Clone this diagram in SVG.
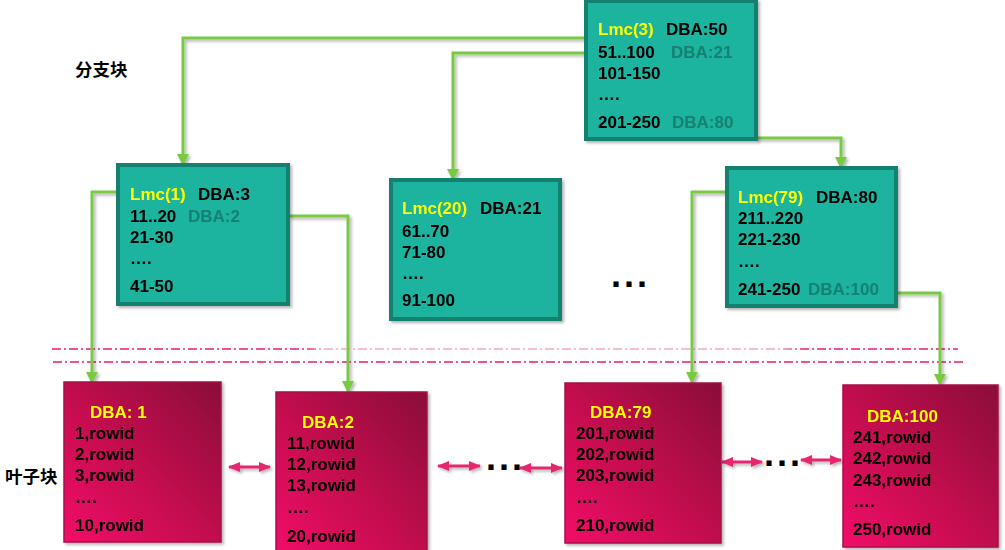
<svg xmlns="http://www.w3.org/2000/svg" width="1005" height="550" viewBox="0 0 1005 550">
<defs>
<style>
text{font-family:"Liberation Sans",Arial,sans-serif;font-weight:bold;font-size:17px;fill:#000}
.cjk{font-family:"Noto Sans CJK SC","Liberation Sans",sans-serif;font-size:17.5px}
.y{fill:#ffff00}
.g{fill:#168072}
.branch{fill:#1bb39f;stroke:#138070;stroke-width:4}
.leaf{fill:url(#leafGrad);stroke:#a8104a;stroke-width:1.5}
.conn{fill:none;stroke:#7ac943;stroke-width:3;marker-end:url(#gArrow)}
.link{stroke:#e6286f;stroke-width:3;marker-start:url(#pArrow);marker-end:url(#pArrow)}
.dash{stroke:#ee1778;stroke-width:1.3;stroke-dasharray:9 3 2 3;fill:none}
.dots{font-size:36px;letter-spacing:3px}
</style>
<linearGradient id="leafGrad" x1="1" y1="0" x2="0" y2="1">
<stop offset="0" stop-color="#8a0a38"/>
<stop offset="0.55" stop-color="#c60a50"/>
<stop offset="1" stop-color="#f20a68"/>
</linearGradient>
<linearGradient id="dashGrad" gradientUnits="userSpaceOnUse" x1="52" y1="0" x2="958" y2="0">
<stop offset="0" stop-color="#ee1778"/>
<stop offset="0.28" stop-color="#ee1778"/>
<stop offset="0.3" stop-color="#f6a8c6"/>
<stop offset="0.8" stop-color="#f6a8c6"/>
<stop offset="0.83" stop-color="#ee1778"/>
<stop offset="1" stop-color="#ee1778"/>
</linearGradient>
<filter id="sh" x="-10%" y="-10%" width="130%" height="130%">
<feDropShadow dx="2" dy="2" stdDeviation="1.5" flood-color="#000" flood-opacity="0.3"/>
</filter>
<marker id="gArrow" markerUnits="userSpaceOnUse" markerWidth="12" markerHeight="12" refX="11" refY="6" orient="auto">
<path d="M0,0 L12,6 L0,12 z" fill="#7ac943"/>
</marker>
<marker id="pArrow" markerUnits="userSpaceOnUse" markerWidth="12" markerHeight="10" refX="11" refY="5" orient="auto-start-reverse">
<path d="M0,0 L12,5 L0,10 z" fill="#e6286f"/>
</marker>
</defs>
<rect width="1005" height="550" fill="#fff"/>

<g id="labels">
<text class="cjk" x="75" y="76">分支块</text>
<text class="cjk" x="5" y="483">叶子块</text>
</g>

<g id="separators">
<line class="dash" x1="52" y1="349" x2="958" y2="349" style="stroke:url(#dashGrad)"/>
<line class="dash" x1="53" y1="362" x2="965" y2="362"/>
</g>

<g id="connectors" filter="url(#sh)">
<path class="conn" d="M586,38 H183 V165"/>
<path class="conn" d="M586,53 H453 V180"/>
<path class="conn" d="M756,138 H841 V168"/>
<path class="conn" d="M118,192 H92 V383"/>
<path class="conn" d="M289,216 H348 V392"/>
<path class="conn" d="M726,192 H692 V383"/>
<path class="conn" d="M897,293 H940 V385"/>
<line class="link" x1="229" y1="467" x2="270" y2="467"/>
<line class="link" x1="438" y1="466" x2="480" y2="466"/>
<line class="link" x1="520" y1="468" x2="562" y2="468"/>
<line class="link" x1="722" y1="462" x2="762" y2="462"/>
<line class="link" x1="801" y1="460" x2="841" y2="460"/>
</g>

<g id="ellipses">
<text class="dots" x="611" y="287">...</text>
<text class="dots" x="486" y="470">...</text>
<text class="dots" x="764" y="466">...</text>
</g>

<g id="root" filter="url(#sh)">
<rect class="branch" x="586" y="1" width="170" height="138"/>
<text x="598" y="35"><tspan class="y">Lmc(3)</tspan><tspan x="666">DBA:50</tspan></text>
<text x="598" y="58">51..100<tspan class="g" x="671">DBA:21</tspan></text>
<text x="598" y="79">101-150</text>
<text x="598" y="100">….</text>
<text x="598" y="128">201-250<tspan class="g" x="672">DBA:80</tspan></text>
</g>

<g id="lmc1" filter="url(#sh)">
<rect class="branch" x="118" y="165" width="170" height="139"/>
<text x="130" y="200"><tspan class="y">Lmc(1)</tspan><tspan x="198">DBA:3</tspan></text>
<text x="130" y="222">11..20<tspan class="g" x="188">DBA:2</tspan></text>
<text x="130" y="243">21-30</text>
<text x="130" y="264">….</text>
<text x="130" y="292">41-50</text>
</g>

<g id="lmc20" filter="url(#sh)">
<rect class="branch" x="391" y="180" width="169" height="139"/>
<text x="402" y="214"><tspan class="y">Lmc(20)</tspan><tspan x="480">DBA:21</tspan></text>
<text x="402" y="237">61..70</text>
<text x="402" y="258">71-80</text>
<text x="402" y="279">….</text>
<text x="402" y="306">91-100</text>
</g>

<g id="lmc79" filter="url(#sh)">
<rect class="branch" x="727" y="168" width="169" height="138"/>
<text x="738" y="203"><tspan class="y">Lmc(79)</tspan><tspan x="816">DBA:80</tspan></text>
<text x="738" y="224">211..220</text>
<text x="738" y="245">221-230</text>
<text x="738" y="267">….</text>
<text x="738" y="295">241-250<tspan class="g" x="808">DBA:100</tspan></text>
</g>

<g id="leaf1" filter="url(#sh)">
<rect class="leaf" x="64" y="382" width="157" height="160"/>
<text class="y" x="90" y="418">DBA: 1</text>
<text x="75" y="439">1,rowid</text>
<text x="75" y="460">2,rowid</text>
<text x="75" y="481">3,rowid</text>
<text x="75" y="503">….</text>
<text x="75" y="531">10,rowid</text>
</g>

<g id="leaf2" filter="url(#sh)">
<rect class="leaf" x="276" y="392" width="151" height="162"/>
<text class="y" x="302" y="428">DBA:2</text>
<text x="287" y="449">11,rowid</text>
<text x="287" y="470">12,rowid</text>
<text x="287" y="491">13,rowid</text>
<text x="287" y="513">….</text>
<text x="287" y="542">20,rowid</text>
</g>

<g id="leaf79" filter="url(#sh)">
<rect class="leaf" x="565" y="383" width="156" height="160"/>
<text class="y" x="590" y="418">DBA:79</text>
<text x="576" y="439">201,rowid</text>
<text x="576" y="460">202,rowid</text>
<text x="576" y="481">203,rowid</text>
<text x="576" y="503">….</text>
<text x="576" y="531">210,rowid</text>
</g>

<g id="leaf100" filter="url(#sh)">
<rect class="leaf" x="843" y="385" width="155" height="162"/>
<text class="y" x="867" y="422">DBA:100</text>
<text x="853" y="443">241,rowid</text>
<text x="853" y="464">242,rowid</text>
<text x="853" y="486">243,rowid</text>
<text x="853" y="507">….</text>
<text x="853" y="535">250,rowid</text>
</g>
</svg>
